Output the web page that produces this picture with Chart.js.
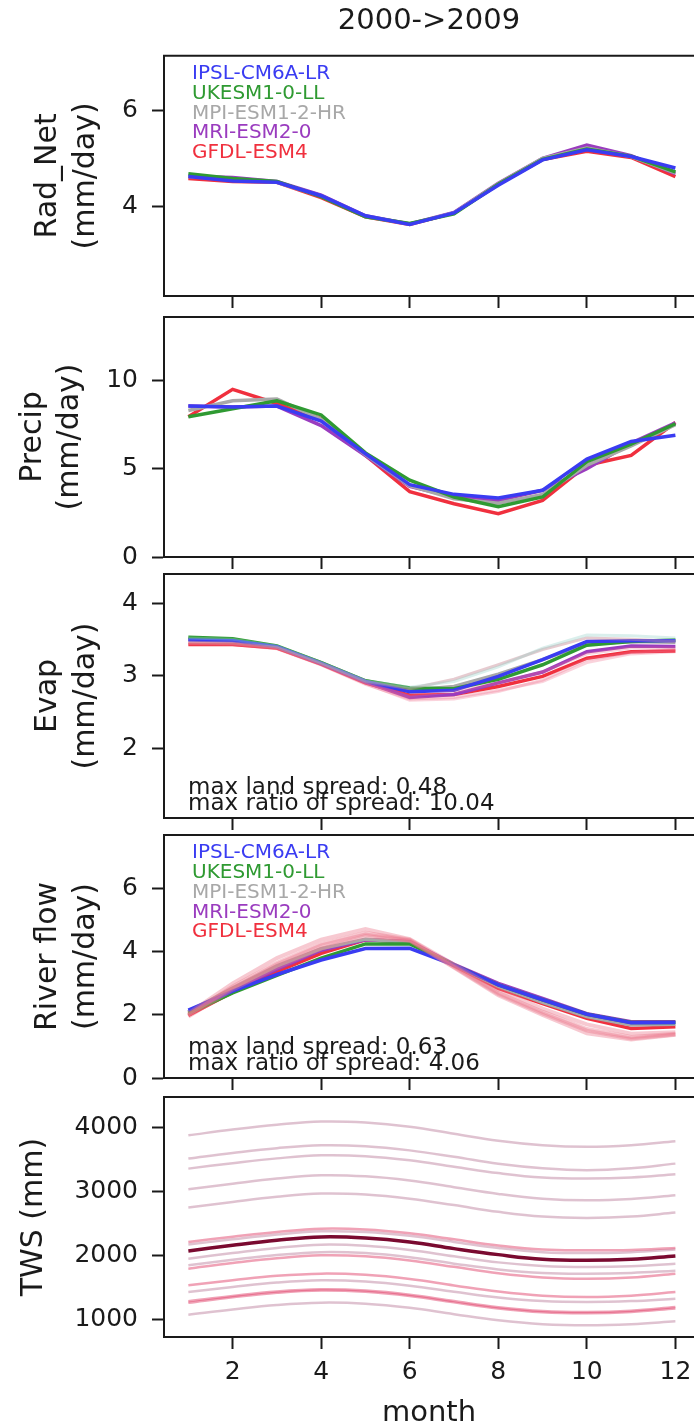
<!DOCTYPE html>
<html>
<head>
<meta charset="utf-8">
<script src="https://cdn.jsdelivr.net/npm/chart.js@4.4.0/dist/chart.umd.min.js"></script>
<style>
  html, body { margin: 0; padding: 0; background: #fff; overflow: hidden; }
  body { width: 694px; height: 1428px; position: relative; }
  canvas { position: absolute; left: 0; }
</style>
</head>
<body>
<canvas id="radnet" width="694" height="312" style="top:0px"></canvas>
<canvas id="precip" width="694" height="273" style="top:300px"></canvas>
<canvas id="evap" width="694" height="274" style="top:560px"></canvas>
<canvas id="river" width="694" height="274" style="top:820px"></canvas>
<canvas id="tws" width="694" height="346" style="top:1082px"></canvas>
<script>
// ---- data ----
var months = [1, 2, 3, 4, 5, 6, 7, 8, 9, 10, 11, 12];
var monthTicks = [2, 4, 6, 8, 10, 12];
var modelNames = ['IPSL-CM6A-LR', 'UKESM1-0-LL', 'MPI-ESM1-2-HR', 'MRI-ESM2-0', 'GFDL-ESM4'];

// order: IPSL, UKESM, MPI, MRI, GFDL
var radNetValues = [
    [4.62, 4.53, 4.50, 4.22, 3.80, 3.62, 3.86, 4.44, 4.97, 5.18, 5.04, 4.80],
    [4.68, 4.58, 4.52, 4.20, 3.78, 3.64, 3.84, 4.46, 4.98, 5.20, 5.05, 4.72],
    [4.62, 4.57, 4.50, 4.21, 3.79, 3.63, 3.86, 4.47, 5.00, 5.22, 5.04, 4.70],
    [4.63, 4.60, 4.52, 4.23, 3.80, 3.63, 3.87, 4.48, 5.00, 5.28, 5.06, 4.68],
    [4.58, 4.52, 4.50, 4.18, 3.78, 3.62, 3.86, 4.46, 4.98, 5.15, 5.02, 4.62]
];
var radNetTicks = [4, 6];

var precipValues = [
    [8.55, 8.50, 8.55, 7.70, 5.85, 4.10, 3.55, 3.35, 3.78, 5.55, 6.55, 6.90],
    [7.95, 8.40, 8.85, 8.05, 5.90, 4.35, 3.40, 2.85, 3.40, 5.40, 6.40, 7.55],
    [8.30, 8.85, 8.95, 7.80, 5.80, 4.05, 3.30, 3.05, 3.55, 5.20, 6.30, 7.50],
    [8.55, 8.50, 8.55, 7.45, 5.75, 4.00, 3.40, 3.20, 3.78, 5.00, 6.45, 7.60],
    [7.95, 9.50, 8.70, 7.85, 5.75, 3.70, 3.02, 2.46, 3.21, 5.20, 5.76, 7.62]
];
var precipTicks = [0, 5, 10];

var evapValues = [
    [3.49, 3.48, 3.40, 3.17, 2.92, 2.78, 2.80, 2.99, 3.22, 3.47, 3.48, 3.48],
    [3.53, 3.51, 3.41, 3.18, 2.93, 2.83, 2.82, 2.95, 3.15, 3.42, 3.47, 3.49],
    [3.50, 3.49, 3.40, 3.18, 2.93, 2.80, 2.85, 3.02, 3.22, 3.44, 3.47, 3.46],
    [3.50, 3.49, 3.40, 3.17, 2.91, 2.70, 2.74, 2.90, 3.05, 3.33, 3.41, 3.40],
    [3.43, 3.43, 3.38, 3.16, 2.90, 2.73, 2.74, 2.85, 2.99, 3.24, 3.33, 3.34]
];
var evapMembers = [
    [3.52, 3.50, 3.41, 3.18, 2.93, 2.84, 2.92, 3.12, 3.38, 3.56, 3.55, 3.52],
    [3.46, 3.45, 3.39, 3.17, 2.92, 2.82, 2.95, 3.15, 3.36, 3.52, 3.50, 3.47],
    [3.44, 3.43, 3.37, 3.15, 2.88, 2.68, 2.70, 2.80, 2.92, 3.18, 3.30, 3.33],
    [3.45, 3.44, 3.38, 3.15, 2.89, 2.66, 2.68, 2.78, 2.94, 3.22, 3.32, 3.36],
    [3.44, 3.44, 3.38, 3.16, 2.90, 2.72, 2.78, 2.90, 3.05, 3.30, 3.38, 3.38]
];
var evapTicks = [2, 3, 4];

var riverValues = [
    [2.15, 2.75, 3.28, 3.74, 4.10, 4.11, 3.58, 2.95, 2.48, 2.02, 1.75, 1.76],
    [2.05, 2.70, 3.25, 3.80, 4.25, 4.25, 3.58, 2.95, 2.48, 2.02, 1.76, 1.76],
    [2.10, 2.85, 3.55, 4.10, 4.40, 4.30, 3.58, 2.90, 2.40, 1.95, 1.68, 1.70],
    [2.10, 2.80, 3.45, 4.05, 4.38, 4.32, 3.60, 3.00, 2.52, 2.04, 1.78, 1.78],
    [1.98, 2.72, 3.37, 3.95, 4.38, 4.32, 3.56, 2.84, 2.36, 1.89, 1.57, 1.62]
];
var riverMembers = [
    [2.05, 3.00, 3.80, 4.38, 4.72, 4.40, 3.60, 2.80, 2.20, 1.70, 1.40, 1.45],
    [2.00, 2.90, 3.65, 4.25, 4.60, 4.38, 3.55, 2.70, 2.10, 1.55, 1.30, 1.40],
    [1.95, 2.80, 3.50, 4.10, 4.50, 4.35, 3.50, 2.62, 2.00, 1.42, 1.22, 1.37],
    [2.00, 2.85, 3.60, 4.20, 4.55, 4.36, 3.52, 2.66, 2.05, 1.50, 1.25, 1.38]
];
var riverTicks = [0, 2, 4, 6];

var twsMembers = [
    [3886, 3975, 4050, 4100, 4085, 4020, 3910, 3800, 3730, 3705, 3730, 3792],
    [3522, 3610, 3685, 3730, 3715, 3650, 3550, 3440, 3370, 3340, 3370, 3443],
    [3365, 3450, 3525, 3573, 3560, 3495, 3395, 3295, 3225, 3209, 3225, 3276],
    [3042, 3130, 3210, 3261, 3245, 3180, 3075, 2970, 2895, 2870, 2890, 2948],
    [2756, 2845, 2925, 2975, 2960, 2895, 2795, 2690, 2615, 2594, 2615, 2678],
    [2219, 2300, 2375, 2427, 2415, 2355, 2260, 2165, 2100, 2089, 2095, 2125],
    [2180, 2260, 2335, 2385, 2375, 2315, 2220, 2125, 2060, 2045, 2060, 2100],
    [1958, 2045, 2125, 2177, 2160, 2095, 1995, 1900, 1845, 1828, 1840, 1880],
    [1854, 1940, 2015, 2060, 2045, 1980, 1880, 1790, 1735, 1724, 1735, 1770],
    [1802, 1890, 1965, 2010, 1995, 1930, 1830, 1730, 1665, 1646, 1665, 1724],
    [1542, 1620, 1690, 1724, 1705, 1640, 1540, 1445, 1380, 1359, 1380, 1437],
    [1437, 1515, 1585, 1620, 1600, 1535, 1440, 1350, 1295, 1281, 1295, 1333],
    [1292, 1375, 1445, 1479, 1460, 1395, 1295, 1200, 1140, 1125, 1145, 1203],
    [1270, 1355, 1425, 1460, 1440, 1375, 1275, 1180, 1120, 1105, 1125, 1180],
    [1083, 1165, 1235, 1271, 1255, 1190, 1090, 995, 935, 917, 935, 979]
];
var twsMean = [2078, 2167, 2245, 2297, 2281, 2219, 2115, 2021, 1948, 1932, 1948, 2000];
var twsTicks = [1000, 2000, 3000, 4000];

// ---- styles ----
var modelColors = ['#3a3cf2', '#2f9a32', '#a8a8a8', '#9a3cbf', '#f0303e'];
var mauve = 'rgba(185,120,150,0.45)';
var rose = 'rgba(225,70,110,0.5)';
var twsColors = [mauve, mauve, mauve, mauve, mauve, rose, mauve, mauve, mauve, rose, rose, mauve, rose, rose, mauve];
var ink = '#1a1a1a';
var FONT = "'DejaVu Sans', sans-serif";

Chart.defaults.font.family = FONT;
Chart.defaults.color = ink;

var topFrame = {
    id: 'topFrame',
    afterDraw: function (chart) {
        var a = chart.chartArea, ctx = chart.ctx;
        ctx.save();
        ctx.strokeStyle = ink;
        ctx.lineWidth = 2;
        ctx.beginPath();
        ctx.moveTo(a.left - 1, a.top);
        ctx.lineTo(a.right, a.top);
        ctx.stroke();
        ctx.restore();
    }
};

var notes = {
    id: 'notes',
    afterDatasetsDraw: function (chart, args, opts) {
        var a = chart.chartArea, ctx = chart.ctx;
        (opts.items || []).forEach(function (it) {
            ctx.save();
            ctx.font = it.font;
            ctx.fillStyle = it.color;
            ctx.textAlign = 'left';
            ctx.textBaseline = 'middle';
            var y = it.fromBottom ? a.bottom - it.dy : a.top + it.dy;
            ctx.fillText(it.text, a.left + it.dx, y);
            ctx.restore();
        });
    }
};

function toPoints(vals) {
    return vals.map(function (v, i) { return { x: months[i], y: v }; });
}

function legendItems() {
    return modelNames.map(function (name, i) {
        return { text: name, color: modelColors[i], font: '20px ' + FONT, dx: 28, dy: 18 + i * 19.8 };
    });
}

function spreadItems(a, b) {
    return [
        { text: 'max land spread: ' + a, color: ink, font: '23px ' + FONT, dx: 24, dy: 30, fromBottom: true },
        { text: 'max ratio of spread: ' + b, color: ink, font: '23px ' + FONT, dx: 24, dy: 14, fromBottom: true }
    ];
}

function plainTick(v) { return String(v); }

function makePanel(id, o) {
    var datasets = [];
    (o.members || []).forEach(function (vals, i) {
        datasets.push({
            data: toPoints(vals),
            borderColor: o.memberColors[i % o.memberColors.length],
            borderWidth: o.memberWidth || 3,
            pointRadius: 0,
            tension: o.tension || 0
        });
    });
    (o.models || []).forEach(function (vals, i) {
        datasets.push({
            label: modelNames[i],
            data: toPoints(vals),
            borderColor: modelColors[i],
            borderWidth: 3.5,
            pointRadius: 0,
            tension: 0
        });
    });
    if (o.mean) {
        datasets.push({ data: toPoints(o.mean), borderColor: '#7a0a30', borderWidth: 3.5, pointRadius: 0, tension: o.tension || 0 });
    }

    var axisGrid = { drawOnChartArea: false, tickLength: 12, tickWidth: 2, tickColor: ink };
    var axisBorder = { display: true, width: 2, color: ink };

    new Chart(document.getElementById(id), {
        type: 'line',
        data: { datasets: datasets },
        options: {
            responsive: false,
            animation: false,
            events: [],
            layout: { padding: { top: o.padTop, left: 0, right: 0, bottom: 0 } },
            plugins: {
                legend: { display: false },
                tooltip: { enabled: false },
                title: o.title ? {
                    display: true, text: o.title, fullSize: false, color: ink,
                    font: { size: 29, weight: 'normal' }, padding: { top: 4, bottom: 17 }
                } : { display: false },
                notes: { items: o.notes || [] }
            },
            scales: {
                x: {
                    type: 'linear', min: 0.45, max: 12.42,
                    afterBuildTicks: function (s) { s.ticks = monthTicks.map(function (v) { return { value: v }; }); },
                    grid: axisGrid, border: axisBorder,
                    ticks: { display: !!o.showX, font: { size: 25 }, color: ink, padding: 8, maxRotation: 0, callback: plainTick },
                    title: { display: !!o.showX, text: 'month', color: ink, font: { size: 29, lineHeight: 1.0 }, padding: 0 },
                    afterFit: function (s) { s.height = o.bottomExtra; s.paddingLeft = 0; s.paddingRight = 0; }
                },
                y: {
                    type: 'linear', min: o.yMin, max: o.yMax,
                    afterBuildTicks: function (s) { s.ticks = o.yTicks.map(function (v) { return { value: v }; }); },
                    grid: axisGrid, border: axisBorder,
                    ticks: { font: { size: 25 }, color: ink, padding: 14, callback: plainTick },
                    title: { display: true, text: o.yTitle, color: ink, font: { size: 30, lineHeight: 1.24 }, padding: { top: o.titlePad, bottom: 0 } },
                    afterFit: function (s) { s.width = 164; s.paddingTop = 0; s.paddingBottom = 0; }
                }
            }
        },
        plugins: [topFrame, notes]
    });
}

makePanel('radnet', {
    title: '2000->2009', padTop: 0, bottomExtra: 16,
    yMin: 2.12, yMax: 7.15, yTicks: radNetTicks, yTitle: ['Rad_Net', '(mm/day)'], titlePad: 30,
    models: radNetValues, notes: legendItems()
});
makePanel('precip', {
    padTop: 17, bottomExtra: 16,
    yMin: 0, yMax: 13.6, yTicks: precipTicks, yTitle: ['Precip', '(mm/day)'], titlePad: 14.5,
    models: precipValues
});
makePanel('evap', {
    padTop: 14, bottomExtra: 16,
    yMin: 1.04, yMax: 4.40, yTicks: evapTicks, yTitle: ['Evap', '(mm/day)'], titlePad: 30,
    members: evapMembers,
    memberColors: ['rgba(150,210,200,0.35)', 'rgba(200,140,150,0.45)', 'rgba(240,110,140,0.3)', 'rgba(240,110,140,0.3)', 'rgba(240,110,140,0.3)'],
    models: evapValues, notes: spreadItems('0.48', '10.04')
});
makePanel('river', {
    padTop: 15, bottomExtra: 16,
    yMin: 0, yMax: 7.7, yTicks: riverTicks, yTitle: ['River flow', '(mm/day)'], titlePad: 30,
    members: riverMembers, memberColors: ['rgba(235,120,140,0.4)'], memberWidth: 4,
    models: riverValues, notes: legendItems().concat(spreadItems('0.63', '4.06'))
});
makePanel('tws', {
    padTop: 15, bottomExtra: 91, showX: true,
    yMin: 734, yMax: 4484, yTicks: twsTicks, yTitle: 'TWS (mm)', titlePad: 15.4,
    members: twsMembers, memberColors: twsColors, memberWidth: 2.5, tension: 0.4,
    mean: twsMean
});
</script>
</body>
</html>
